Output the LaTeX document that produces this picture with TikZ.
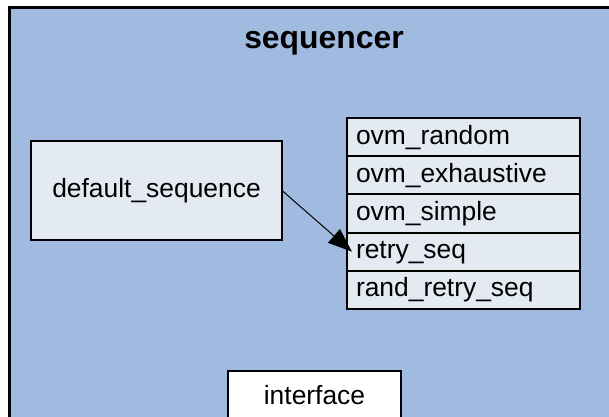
\documentclass[tikz,border=0pt]{standalone}
\usepackage{fontspec}
\setmainfont{Liberation Sans}
\usetikzlibrary{positioning,arrows.meta}
\definecolor{seqblue}{HTML}{A1BBE0}
\definecolor{boxgray}{HTML}{E4EAF2}

\begin{document}
\begin{tikzpicture}[x=1bp,y=-1bp,
    every node/.style={font=\fontsize{26.5}{31}\selectfont},
    blk/.style={draw,line width=2bp,fill=boxgray,outer sep=0pt,text height=19bp,text depth=5bp},
    seqrow/.style={blk,minimum height=38.2bp,text width=215bp,inner xsep=9bp,align=left}]
    \path[use as bounding box,clip] (0,0) rectangle (609,416);
    \draw[line width=3bp,fill=seqblue] (9.5,7) rectangle (700,500);
    \node[font=\fontsize{32}{37}\selectfont\bfseries,anchor=base] (title) at (324,48) {sequencer};

    \node[blk,minimum width=251bp,minimum height=99bp] (dflt) at (156.5,190.5) {default\_sequence};

    \node[seqrow,anchor=north west] (rnd) at (347,118) {ovm\_random};
    \node[seqrow,below=0pt of rnd] (exh) {ovm\_exhaustive};
    \node[seqrow,below=0pt of exh] (smp) {ovm\_simple};
    \node[seqrow,below=0pt of smp] (retry) {retry\_seq};
    \node[seqrow,below=0pt of retry] (rndretry) {rand\_retry\_seq};

    \node[blk,fill=white,minimum width=173bp,minimum height=53bp,anchor=north] (intf) at (314.5,371) {interface};

    \draw[line width=1bp,-{Triangle[length=24bp,width=18bp]}] (dflt.east) -- ([xshift=5bp]retry.west);
\end{tikzpicture}
\end{document}
